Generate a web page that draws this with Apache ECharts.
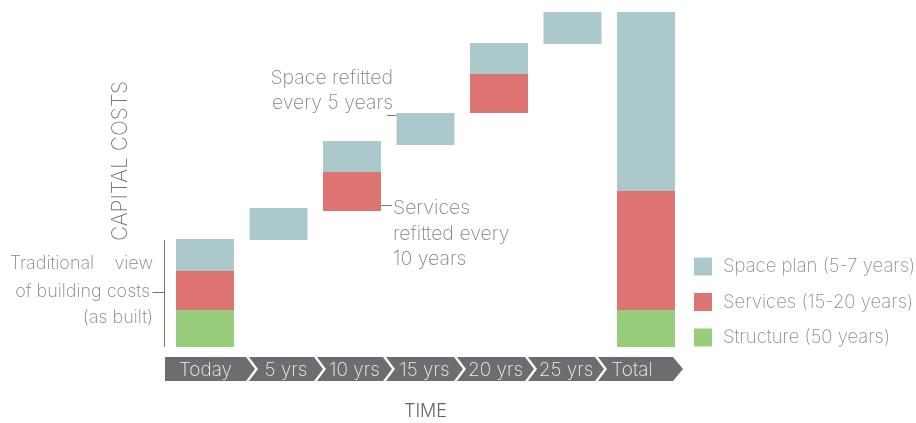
<!DOCTYPE html>
<html>
<head>
<meta charset="utf-8">
<script src="https://cdn.jsdelivr.net/npm/echarts@6/dist/echarts.min.js"></script>
<style>
  html, body { margin: 0; padding: 0; background: #ffffff; }
  #chart { width: 916px; height: 423px; }
</style>
</head>
<body>
<div id="chart"></div>
<script>
// ---- data (capital cost units) ----
const categories = ['Today', '5 yrs', '10 yrs', '15 yrs', '20 yrs', '25 yrs', 'Total'];
const baseValues = [0, 107, 136, 202, 234, 303, 0];       // invisible offset (waterfall)
const structureValues = [37, 0, 0, 0, 0, 0, 37];
const servicesValues = [39, 0, 39, 0, 39, 0, 119];
const spaceValues = [32, 32, 31, 32, 31, 32, 179];
const seriesNames = ['Space plan (5-7 years)', 'Services (15-20 years)', 'Structure (50 years)'];

const FONT = 'Inter, Roboto, "Liberation Sans", sans-serif';
const FW = 200;
const chart = echarts.init(document.getElementById('chart'), null, { renderer: 'canvas' });

const option = {
  animation: false,
  backgroundColor: '#ffffff',
  grid: { left: 168.25, right: 233.25, top: 12, bottom: 76, outerBoundsMode: 'none', containLabel: false },
  xAxis: {
    type: 'category',
    data: categories,
    axisLine: { show: false },
    axisTick: { show: false },
    axisLabel: { show: false },
    splitLine: { show: false },
    name: 'TIME',
    nameLocation: 'middle',
    nameGap: 56,
    nameTextStyle: { color: '#666666', fontSize: 18, fontFamily: FONT, fontWeight: 300 }
  },
  yAxis: {
    type: 'value', min: 0, max: 335, show: false
  },
  legend: {
    orient: 'vertical',
    left: 694, top: 257, padding: 0,
    itemWidth: 18, itemHeight: 18, itemGap: 16.5,
    icon: 'rect',
    data: seriesNames,
    textStyle: { color: '#8f8f8f', fontSize: 18.5, fontFamily: FONT, fontWeight: FW, padding: [0, 0, 0, 6] },
    selectedMode: false
  },
  series: [
    { name: 'base', type: 'bar', stack: 'cost', barWidth: 58, data: baseValues,
      itemStyle: { color: 'rgba(0,0,0,0)' }, silent: true },
    { name: seriesNames[2], type: 'bar', stack: 'cost', barWidth: 58, data: structureValues,
      itemStyle: { color: '#98cd7b' } },
    { name: seriesNames[1], type: 'bar', stack: 'cost', barWidth: 58, data: servicesValues,
      itemStyle: { color: '#de7471' } },
    { name: seriesNames[0], type: 'bar', stack: 'cost', barWidth: 58, data: spaceValues,
      itemStyle: { color: '#abc8cc' } }
  ]
};
chart.setOption(option);

// ---- decorations: timeline chevrons, annotations ----
function buildGraphics() {
  const g = [];
  const base = chart.convertToPixel({ gridIndex: 0 }, [0, 0]);
  const baseY = base[1];
  const top = baseY + 10, bot = baseY + 34, mid = (top + bot) / 2;
  const edges = [165, 247, 315, 384, 455, 526, 596, 673];
  const d = 9;
  const last = categories.length - 1;
  categories.forEach((name, i) => {
    const L = edges[i], R = edges[i + 1];
    const lx = i === 0 ? L : L + 2;
    const rx = i === last ? R : R - 1;
    const pts = [[lx, top], [rx, top], [rx + d + (i === last ? 1 : 0), mid], [rx, bot], [lx, bot]];
    if (i > 0) pts.push([lx + d, mid]);
    g.push({ type: 'polygon', shape: { points: pts }, style: { fill: '#6c6d70' }, silent: true });
    let cx = i === 0 ? (lx + rx) / 2 : (lx + d + rx) / 2;
    if (i === last) cx -= 8;
    g.push({ type: 'text', x: cx, y: mid + 1, silent: true,
      style: { text: name, align: 'center', verticalAlign: 'middle', fill: '#eeeeee',
               fontSize: 19, fontFamily: FONT, fontWeight: FW } });
  });

  const txt = (x, y, text, align, size) => ({
    type: 'text', x: x, y: y, silent: true,
    style: { text: text, align: align, verticalAlign: 'middle', fill: '#858585',
             fontSize: size || 19.5, fontFamily: FONT, fontWeight: FW }
  });
  const line = (x1, y1, x2, y2) => ({ type: 'line', silent: true,
    shape: { x1: x1, y1: y1, x2: x2, y2: y2 }, style: { stroke: '#777777', lineWidth: 1 } });

  // vertical axis title
  g.push({ type: 'text', x: 121, y: 161, rotation: Math.PI / 2, silent: true,
    style: { text: 'CAPITAL COSTS', align: 'center', verticalAlign: 'middle', fill: '#777777',
             fontSize: 21, fontFamily: FONT, fontWeight: FW } });

  // Traditional view bracket
  const todayTop = chart.convertToPixel({ gridIndex: 0 }, [0, structureValues[0] + servicesValues[0] + spaceValues[0]]);
  const bx = todayTop[0] - 29 - 11.5;
  g.push(line(bx, todayTop[1] + 1, bx, baseY));
  g.push(line(bx - 12, 292.5, bx, 292.5));
  g.push(txt(153, 264, 'Traditional    view', 'right', 18));
  g.push(txt(150, 292, 'of building costs', 'right', 18));
  g.push(txt(153, 318, '(as built)', 'right', 18));

  // Space refitted every 5 years
  const p15 = chart.convertToPixel({ gridIndex: 0 }, [3, baseValues[3] + spaceValues[3]]);
  const x15 = p15[0] - 29;
  g.push(line(x15 - 9.5, p15[1] + 2.5, x15, p15[1] + 2.5));
  g.push(txt(393, 78, 'Space refitted', 'right'));
  g.push(txt(393, 103, 'every 5 years', 'right'));

  // Services refitted every 10 years
  const p10 = chart.convertToPixel({ gridIndex: 0 }, [2, baseValues[2]]);
  const x10 = p10[0] + 29;
  g.push(line(x10, p10[1] - 5.5, x10 + 11, p10[1] - 5.5));
  g.push(txt(393, 208, 'Services', 'left'));
  g.push(txt(393, 234, 'refitted every', 'left'));
  g.push(txt(393, 259, '10 years', 'left'));

  chart.setOption({ graphic: { elements: g } });
}
buildGraphics();
</script>
</body>
</html>
